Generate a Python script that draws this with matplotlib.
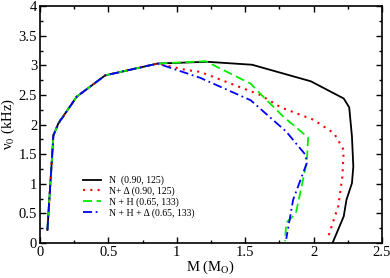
import matplotlib.pyplot as plt
from matplotlib.ticker import MultipleLocator

# N
m_n = [0.054, 0.098, 0.134, 0.268, 0.476, 0.86, 1.22, 1.55, 1.98, 2.22, 2.26, 2.28, 2.29, 2.28, 2.24, 2.22, 2.14]
f_n = [0.22, 1.82, 2.02, 2.47, 2.83, 3.03, 3.06, 3.01, 2.73, 2.44, 2.29, 1.80, 1.29, 1.01, 0.73, 0.45, 0.01]
# N + Delta
m_nd = [0.054, 0.098, 0.134, 0.268, 0.476, 0.86, 1.07, 1.17, 1.61, 1.76, 2.0, 2.15, 2.22, 2.21, 2.18, 2.10]
f_nd = [0.22, 1.82, 2.02, 2.47, 2.83, 3.03, 2.92, 2.89, 2.50, 2.29, 2.08, 1.85, 1.57, 1.12, 0.62, 0.06]
# N + H
m_nh = [0.054, 0.098, 0.134, 0.268, 0.476, 0.86, 1.21, 1.54, 1.61, 1.78, 1.96, 1.95, 1.87, 1.80, 1.79]
f_nh = [0.22, 1.82, 2.02, 2.47, 2.83, 3.03, 3.07, 2.69, 2.52, 2.13, 1.78, 1.37, 0.50, 0.34, 0.03]
# N + H + Delta
m_nhd = [0.054, 0.098, 0.15, 0.16, 0.268, 0.476, 0.86, 1.17, 1.54, 1.80, 1.94, 1.95, 1.85, 1.80]
f_nhd = [0.22, 1.82, 2.08, 2.10, 2.47, 2.83, 3.03, 2.79, 2.41, 1.88, 1.49, 1.35, 0.73, 0.07]

labels = ['N  (0.90, 125)', 'N+ Δ (0.90, 125)', 'N + H (0.65, 133)', 'N + H + Δ (0.65, 133)']
xticks = [0, 0.5, 1, 1.5, 2, 2.5]
xtick_labels = ['0', '0.5', '1', '1.5', '2', '2.5']
yticks = [0, 0.5, 1, 1.5, 2, 2.5, 3, 3.5, 4]
ytick_labels = ['0', '0.5', '1', '1.5', '2', '2.5', '3', '3.5', '4']

plt.rcParams['font.family'] = ['Liberation Serif', 'DejaVu Serif']
plt.rcParams['mathtext.fontset'] = 'stix'

fig = plt.figure(figsize=(3.9, 2.78), dpi=100)
ax = fig.add_axes([0.1026, 0.126, 0.877, 0.852])

ax.plot(m_n, f_n, color='black', lw=1.3, label=labels[0])
ax.plot(m_nd, f_nd, color='red', lw=1.5, ls=(0, (1, 2.5)), label=labels[1])
ax.plot(m_nh, f_nh, color='#00ee00', lw=1.3, ls=(0, (5, 2.5)), label=labels[2])
ax.plot(m_nhd, f_nhd, color='blue', lw=1.3, ls=(0, (5, 2, 1, 2)), label=labels[3])

ax.set_xticks(xticks)
ax.set_xticklabels(xtick_labels)
ax.set_yticks(yticks)
ax.set_yticklabels(ytick_labels)
ax.xaxis.set_minor_locator(MultipleLocator(0.25))
ax.yaxis.set_minor_locator(MultipleLocator(0.25))
ax.set_xlim(0, 2.5)
ax.set_ylim(0, 4)
ax.tick_params(which='both', direction='in', top=True, right=True, labelsize=10.5, pad=2)
ax.tick_params(which='major', length=4, width=1)
ax.tick_params(which='minor', length=2.5, width=1)
for s in ax.spines.values():
    s.set_linewidth(1.2)

ax.set_xlabel('M (M$_\\mathrm{O}$)', fontsize=10.5, labelpad=0)
ax.set_ylabel('ν$_0$ (kHz)', fontsize=10.5, labelpad=1)

ax.legend(loc='lower left', bbox_to_anchor=(0.1, 0.07), frameon=False, fontsize=7,
          handlelength=1.9, handletextpad=0.8, labelspacing=0.12)

fig.savefig('out.png', dpi=100)
